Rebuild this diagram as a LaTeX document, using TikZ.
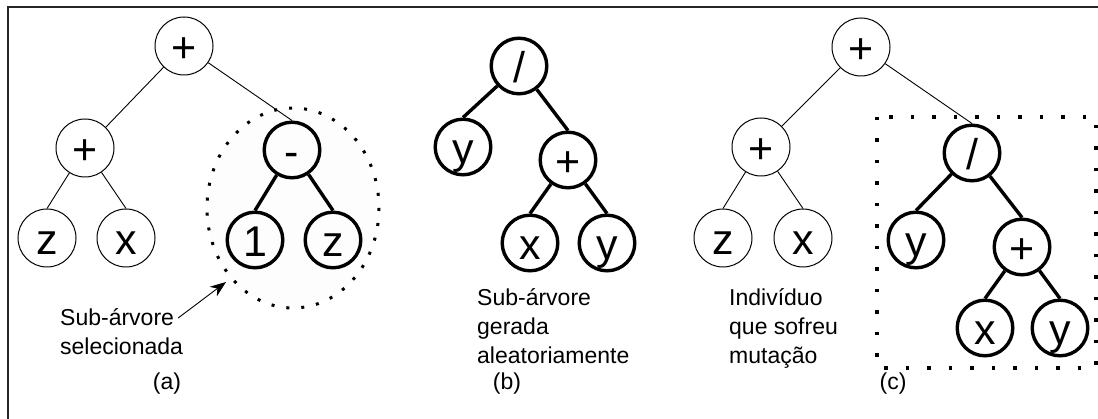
\documentclass[tikz,border=0pt]{standalone}
\usepackage{fontspec}
\setmainfont{Liberation Sans}
\usepackage{xcolor}
\usepackage{tikz}
\usetikzlibrary{arrows.meta}

\begin{document}
\begin{tikzpicture}[x=1pt,y=-1pt]
			\tikzstyle{gene} = [circle, draw, line width=1pt, minimum size=58pt, inner sep=0pt, text height=33pt, text depth=0pt, font=\fontsize{43}{43}\selectfont]
			\tikzstyle{newgene} = [gene, line width=3.4pt, minimum size=55.6pt]
			\tikzstyle{caption} = [inner sep=0pt, font=\fontsize{23}{29}\selectfont]
			\tikzstyle{note} = [caption, align=left, anchor=north west]
			\tikzset{edge/.style = {line width=0.9pt}}
			\tikzset{newedge/.style = {line width=3.4pt}}
			\tikzset{pointer/.style = {line width=0.9pt, -{Stealth[length=16pt, width=12pt]}}}

			\useasboundingbox (0,0) rectangle (1098,419);
			\draw[line width=1.5pt, black!85] (8,419) -- (8,7) -- (1098,7);

			% (a) arvore original
			\filldraw[fill=black!0.8, line width=3pt, dash pattern=on 3pt off 12pt] (293,208) ellipse [x radius=86, y radius=100];
			\node[gene](aroot) at (184,46) {+};
			\node[gene](aplus) at (85,148) {+};
			\node[gene](az) at (47,238) {z};
			\node[gene](ax) at (126,238) {x};
			\node[newgene](aminus) at (292,150) {-};
			\node[newgene](aone) at (255,240) {1};
			\node[newgene](aztwo) at (333,240) {z};
			\draw[edge](aroot) to (aplus.north east);
			\draw[edge](aroot) to (aminus.north);
			\draw[edge](aplus) to (az.north);
			\draw[edge](aplus) to (ax.north);
			\draw[newedge](aminus) to (aone.north);
			\draw[newedge](aminus) to (aztwo.north);

			\node[note](sel) at (60,308) {Sub-árvore\\selecionada};
			\coordinate(seltip) at (226,282);
			\draw[pointer]([shift={(-5,10)}]sel.north east) to (seltip);
			\node[caption](capa) at (167,384) {(a)};

			% (b) sub-arvore aleatoria
			\node[newgene](bdiv) at (519,66) {/};
			\node[newgene](by) at (463,147) {y};
			\node[newgene](bplus) at (568,160) {+};
			\node[newgene](bx) at (530,243) {x};
			\node[newgene](byy) at (607,243) {y};
			\draw[newedge](bdiv) to (by.north);
			\draw[newedge](bdiv) to (bplus.north);
			\draw[newedge](bplus) to (bx.north);
			\draw[newedge](bplus) to (byy.north);

			\node[note](gen) at (477,288) {Sub-árvore\\gerada\\aleatoriamente};
			\node[caption](capb) at (507,384) {(b)};

			% (c) individuo mutado
			\draw[line width=3.5pt, dash pattern=on 3.5pt off 18pt] (877,117) rectangle (1096,368);
			\node[gene](croot) at (861,47) {+};
			\node[gene](cplus) at (761,147) {+};
			\node[gene](cz) at (723,238) {z};
			\node[gene](cx) at (803,238) {x};
			\node[newgene](cdiv) at (972,153) {/};
			\node[newgene](cy) at (916,240) {y};
			\node[newgene](cplustwo) at (1022,247) {+};
			\node[newgene](cxx) at (985,328) {x};
			\node[newgene](cyy) at (1060,328) {y};
			\draw[edge](croot) to (cplus.north east);
			\draw[edge](croot) to (cdiv.north);
			\draw[edge](cplus) to (cz.north);
			\draw[edge](cplus) to (cx.north);
			\draw[newedge](cdiv) to (cy.north);
			\draw[newedge](cdiv) to (cplustwo.north);
			\draw[newedge](cplustwo) to (cxx.north);
			\draw[newedge](cplustwo) to (cyy.north);

			\node[note](mut) at (729,288) {Indivíduo\\que sofreu\\mutação};
			\node[caption](capc) at (893,384) {(c)};
\end{tikzpicture}
\end{document}
